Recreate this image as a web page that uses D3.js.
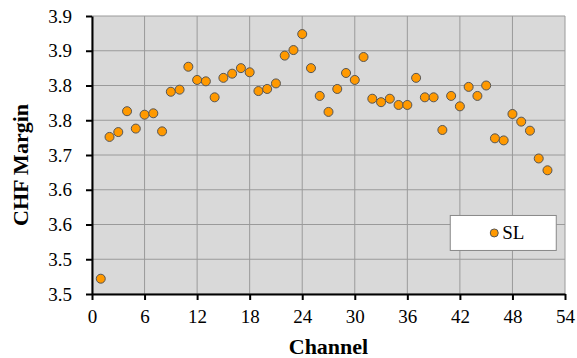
<!DOCTYPE html>
<meta charset="utf-8">
<title>CHF Margin by Channel</title>
<style>
  body { margin: 0; background: white; }
  svg text { font-family: "Liberation Serif", serif !important; }
  .grid line { stroke: #9a9a9a; stroke-width: 1px; }
  .axis path, .axis line { stroke: black; stroke-width: 2px; }
</style>
<body>
<div id="chart"></div>
<script src="https://d3js.org/d3.v7.min.js"></script>
<script>

// data
var channels = [1,2,3,4,5,6,7,8,9,10,11,12,13,14,15,16,17,18,19,20,21,22,23,24,25,26,
                27,28,29,30,31,32,33,34,35,36,37,38,39,40,41,42,43,44,45,46,47,48,49,50,51,52];
var margins = [3.522,3.726,3.733,3.763,3.738,3.758,3.760,3.734,3.791,3.794,3.827,3.808,3.806,
               3.783,3.811,3.817,3.825,3.819,3.792,3.795,3.803,3.843,3.851,3.874,3.825,3.785,
               3.762,3.795,3.818,3.808,3.841,3.781,3.776,3.781,3.772,3.772,3.811,3.783,3.783,
               3.736,3.785,3.770,3.798,3.785,3.800,3.724,3.721,3.759,3.748,3.735,3.695,3.678];
var xTicks = [0,6,12,18,24,30,36,42,48,54];
var yTicks = [3.5,3.55,3.6,3.65,3.7,3.75,3.8,3.85,3.9];
var seriesName = "SL";

var serif = "Liberation Serif";
var W = 577, H = 358;
var margin = {top: 16, right: 12, bottom: 64, left: 92},
    width = W - margin.left - margin.right,
    height = H - margin.top - margin.bottom;

var svg = d3.select("#chart").append("svg")
    .attr("width", W)
    .attr("height", H)
  .append("g")
    .attr("transform", "translate(" + margin.left + "," + margin.top + ")");

var x = d3.scaleLinear().domain([0, 54]).range([0, width]);
var y = d3.scaleLinear().domain([3.5, 3.9]).range([height, 0]);

// plot background
svg.append("rect")
    .attr("width", width)
    .attr("height", height)
    .attr("fill", "#d9d9d9");

// grid lines
var grid = svg.append("g").attr("class", "grid");
grid.selectAll("line.h").data(yTicks).enter().append("line")
    .attr("x1", 0).attr("x2", width)
    .attr("y1", function(d) { return y(d); })
    .attr("y2", function(d) { return y(d); });
grid.selectAll("line.v").data(xTicks).enter().append("line")
    .attr("y1", 0).attr("y2", height)
    .attr("x1", function(d) { return x(d); })
    .attr("x2", function(d) { return x(d); });

// axes
var xAxis = svg.append("g")
    .attr("class", "axis")
    .attr("transform", "translate(0," + height + ")")
    .call(d3.axisBottom(x).tickValues(xTicks).tickSize(6).tickSizeOuter(0).tickPadding(10));

var yAxis = svg.append("g")
    .attr("class", "axis")
    .call(d3.axisLeft(y).tickValues(yTicks).tickFormat(d3.format(".1f"))
      .tickSize(6).tickSizeOuter(0).tickPadding(14));

[xAxis, yAxis].forEach(function(a) {
  a.attr("font-family", null).style("font-family", serif);
  a.selectAll("text")
    .style("font-family", serif)
    .style("font-size", "19px")
    .attr("fill", "black");
});

// points
svg.selectAll("circle.pt")
    .data(channels)
  .enter().append("circle")
    .attr("class", "pt")
    .attr("cx", function(d) { return x(d); })
    .attr("cy", function(d, i) { return y(margins[i]); })
    .attr("r", 4.5)
    .attr("fill", "#ff9900")
    .attr("stroke", "#555")
    .attr("stroke-width", 1);

// legend
var lg = svg.append("g").attr("transform", "translate(" + (x(40.9)) + "," + (y(3.613)) + ")");
lg.append("rect")
    .attr("width", 106).attr("height", 35)
    .attr("fill", "white").attr("stroke", "#888").attr("stroke-width", 1);
lg.append("circle")
    .attr("cx", 44).attr("cy", 17.5).attr("r", 4)
    .attr("fill", "#ff9900").attr("stroke", "#555");
lg.append("text")
    .attr("x", 52).attr("y", 24)
    .style("font-family", serif)
    .style("font-size", "19px")
    .text(seriesName);

// axis titles
svg.append("text")
    .style("font-family", serif)
    .style("font-size", "22px")
    .style("font-weight", "bold")
    .attr("text-anchor", "middle")
    .attr("x", width / 2)
    .attr("y", height + 60)
    .text("Channel");

svg.append("text")
    .style("font-family", serif)
    .style("font-size", "22px")
    .style("font-weight", "bold")
    .attr("text-anchor", "middle")
    .attr("transform", "translate(" + (-64) + "," + (y(3.7) + 10) + ") rotate(-90)")
    .text("CHF Margin");

</script>
</body>
